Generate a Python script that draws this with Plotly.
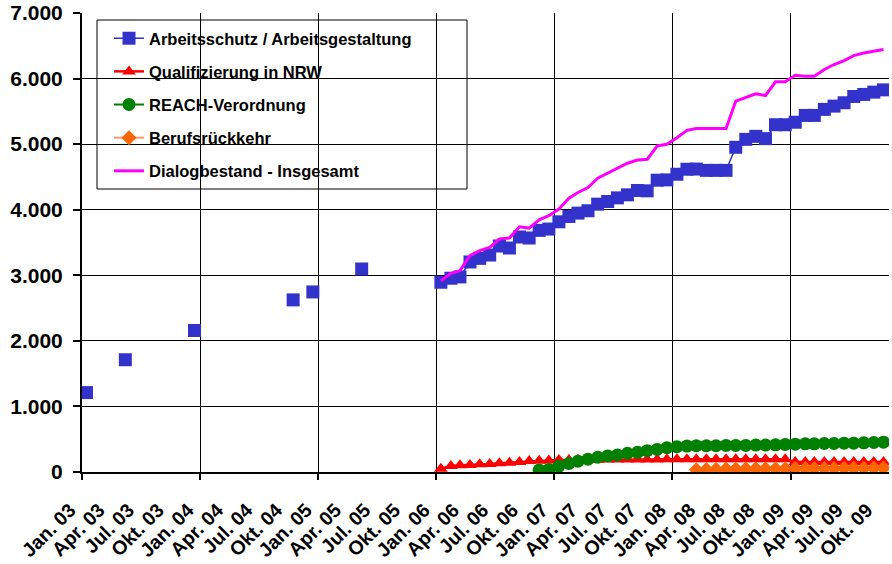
import plotly.graph_objects as go
import pandas as pd

# ---------------- data ----------------
tick_months = ["Jan.", "Apr.", "Jul.", "Okt."]
tick_month_nums = [1, 4, 7, 10]
tick_years = ["03", "04", "05", "06", "07", "08", "09"]

y_tick_values = [0, 1000, 2000, 3000, 4000, 5000, 6000, 7000]
y_tick_labels = ["0", "1.000", "2.000", "3.000", "4.000", "5.000", "6.000", "7.000"]

# Arbeitsschutz / Arbeitsgestaltung - isolated early readings
arbeit_early_months = ["2003-01", "2003-05", "2003-12", "2004-10", "2004-12", "2005-05"]
arbeit_early_values = [1211, 1712, 2158, 2625, 2746, 3096]

# monthly series from Jan 06 to Oct 09
monthly_start = "2006-01"
arbeit_values = [
    2894, 2955, 2975, 3203, 3258, 3309, 3447, 3416, 3584, 3569, 3685, 3705,
    3816, 3897, 3948, 3984, 4085, 4125, 4181, 4227, 4293, 4288, 4450, 4455,
    4541, 4617, 4620, 4600, 4600, 4600, 4952, 5073, 5119, 5084, 5296, 5296,
    5334, 5438, 5438, 5530, 5580, 5631, 5727, 5758, 5793, 5828,
]
qualif_values = [
    50, 91, 102, 106, 117, 122, 132, 141, 152, 167, 172, 177,
    182, 184, 186, 187, 188, 189, 190, 190, 191, 192, 192, 193,
    193, 193, 193, 193, 193, 193, 193, 193, 193, 193, 193, 193,
    152, 152, 152, 152, 152, 152, 152, 152, 152, 152,
]
total_values = [
    2915, 3030, 3071, 3299, 3375, 3426, 3553, 3568, 3740, 3720, 3847, 3908,
    4009, 4176, 4262, 4338, 4480, 4556, 4642, 4709, 4759, 4769, 4972, 4997,
    5098, 5210, 5240, 5240, 5240, 5240, 5656, 5707, 5768, 5742, 5950, 5950,
    6051, 6036, 6036, 6138, 6214, 6275, 6351, 6391, 6417, 6442,
]

reach_start = "2006-11"
reach_values = [
    30, 40,
    90, 130, 165, 195, 225, 245, 260, 285, 300, 325, 345, 370,
    385, 395, 400, 400, 400, 405, 405, 405, 410, 410, 415, 420,
    425, 430, 430, 435, 435, 440, 440, 445, 450, 455,
]

beruf_start = "2008-03"
beruf_values = [
    35, 40, 42, 45, 45, 48, 48, 50, 50, 50,
    52, 52, 55, 55, 55, 57, 57, 58, 60, 60,
]

series_names = [
    "Arbeitsschutz / Arbeitsgestaltung",
    "Qualifizierung in NRW",
    "REACH-Verordnung",
    "Berufsrückkehr",
    "Dialogbestand - Insgesamt",
]

# ---------------- helpers ----------------
def mid_month(start, n):
    return pd.date_range(start=start, periods=n, freq="MS") + pd.Timedelta(days=14)

early_x = [pd.Timestamp(m + "-01") + pd.Timedelta(days=14) for m in arbeit_early_months]
monthly_x = mid_month(monthly_start, len(arbeit_values))
reach_x = mid_month(reach_start, len(reach_values))
beruf_x = mid_month(beruf_start, len(beruf_values))

tick_vals = []
tick_text = []
for yr in tick_years:
    for mn, lab in zip(tick_month_nums, tick_months):
        tick_vals.append(pd.Timestamp(year=2000 + int(yr), month=mn, day=1))
        tick_text.append(f"{lab} {yr}")

FONT = "Liberation Sans, Arial, sans-serif"
BLUE = "#3333CC"
RED = "#FF0000"
GREEN = "#008000"
ORANGE = "#FF6600"
ORANGE_LINE = "#FF9966"
MAGENTA = "#FF00FF"

x_range = ["2003-01-01", "2009-11-01"]

fig = go.Figure()

# carrier for the yearly grid axis (no visible marks)
fig.add_trace(go.Scatter(
    x=x_range, y=[None, None], xaxis="x2", mode="lines",
    showlegend=False, hoverinfo="skip",
))

fig.add_trace(go.Scatter(
    x=early_x, y=arbeit_early_values, mode="markers", showlegend=False,
    legendgroup="g1",
    marker=dict(symbol="square", size=13, color=BLUE),
))
fig.add_trace(go.Scatter(
    x=monthly_x, y=arbeit_values, mode="lines+markers", name=series_names[0],
    legendgroup="g1",
    line=dict(color=BLUE, width=1.5),
    marker=dict(symbol="square", size=13, color=BLUE),
))
fig.add_trace(go.Scatter(
    x=monthly_x, y=qualif_values, mode="lines+markers", name=series_names[1],
    legendgroup="g2",
    line=dict(color=RED, width=2.5),
    marker=dict(symbol="triangle-up", size=12, color=RED),
))
fig.add_trace(go.Scatter(
    x=reach_x, y=reach_values, mode="lines+markers", name=series_names[2],
    legendgroup="g3",
    line=dict(color=GREEN, width=2),
    marker=dict(symbol="circle", size=13, color=GREEN),
))
fig.add_trace(go.Scatter(
    x=beruf_x, y=beruf_values, mode="lines+markers", name=series_names[3],
    legendgroup="g4",
    line=dict(color=ORANGE_LINE, width=2),
    marker=dict(symbol="diamond", size=11.5, color=ORANGE),
))
fig.add_trace(go.Scatter(
    x=monthly_x, y=total_values, mode="lines", name=series_names[4],
    legendgroup="g5",
    line=dict(color=MAGENTA, width=3),
))

W, H = 892, 564
ML, MR, MT, MB = 82, 3, 13, 92
PW = W - ML - MR
PH = H - MT - MB

def px_x(px):
    return (px - ML) / PW

def px_y(py):
    return (H - MB - py) / PH

fig.update_layout(
    width=W, height=H,
    margin=dict(l=ML, r=MR, t=MT, b=MB, pad=0),
    paper_bgcolor="white", plot_bgcolor="white",
    font=dict(family=FONT, color="black"),
    showlegend=True,
    legend=dict(
        x=px_x(109), y=px_y(21), xanchor="left", yanchor="top",
        bgcolor="rgba(0,0,0,0)", borderwidth=0,
        font=dict(family=FONT, size=16.5, color="black", weight="bold"),
        traceorder="grouped", tracegroupgap=8.7,
    ),
    xaxis=dict(
        type="date", range=x_range, automargin=False,
        tickmode="array", tickvals=tick_vals, ticktext=tick_text,
        tickangle=-45, ticks="", showgrid=False, zeroline=False,
        showline=True, linecolor="black", linewidth=2,
        ticklabelstandoff=17, ticklabelshift=-12,
        tickfont=dict(family=FONT, size=19.5, color="black", weight="bold"),
    ),
    xaxis2=dict(
        type="date", range=x_range, overlaying="x", side="bottom",
        anchor="y", automargin=False,
        dtick="M12", tick0="2003-01-01",
        showgrid=True, gridcolor="black", gridwidth=1,
        ticks="outside", ticklen=7, tickcolor="black", tickwidth=1.5,
        showticklabels=False, showline=False, zeroline=False,
    ),
    yaxis=dict(
        range=[0, 7000], tickmode="array", automargin=False,
        tickvals=y_tick_values, ticktext=y_tick_labels,
        showgrid=True, gridcolor="black", gridwidth=1,
        zeroline=False, showline=True, linecolor="black", linewidth=2,
        ticks="outside", ticklen=7, tickcolor="black", tickwidth=1.5,
        ticklabelstandoff=6,
        tickfont=dict(family=FONT, size=21, color="black", weight="bold"),
    ),
    shapes=[dict(
        type="rect", xref="paper", yref="paper",
        x0=px_x(97), x1=px_x(467), y0=px_y(189), y1=px_y(20),
        line=dict(color="black", width=1), fillcolor="white", layer="between",
    )],
)

fig.write_html(
    "out.html",
    config={"displayModeBar": False},
    post_script="document.body.style.margin='0px';",
)
